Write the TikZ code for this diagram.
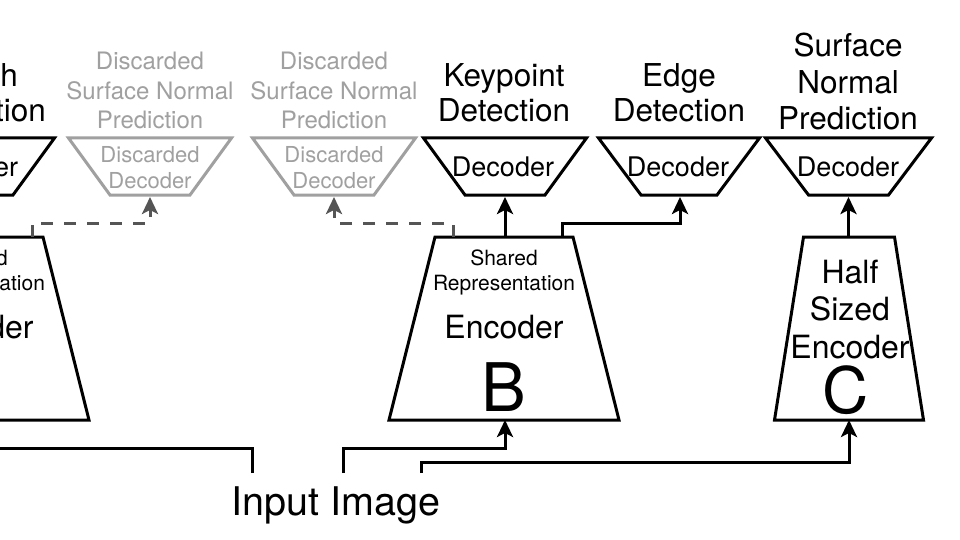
\documentclass[tikz,border=0pt]{standalone}
\usepackage{fontspec}
\setmainfont{TeX Gyre Heros}
\usetikzlibrary{arrows.meta}
\newcommand\myfs[2]{\fontsize{#1}{#2}\selectfont}
\newcommand\trapz[6]{\draw[#1] ({#2-#5},#3) -- ({#2+#5},#3) -- ({#2+#6},#4) -- ({#2-#6},#4) -- cycle;}
\definecolor{discgray}{HTML}{A0A0A0}
\definecolor{dashgray}{HTML}{555555}
\begin{document}
\begin{tikzpicture}[x=1pt,y=-1pt,
  shapeline/.style={draw=black,line width=3pt,line join=miter},
  discline/.style={draw=discgray,line width=3pt,line join=miter},
  conn/.style={draw=black,line width=3pt},
  dconn/.style={draw=dashgray,line width=3pt,dash pattern=on 12pt off 11pt},
  arr/.style={-{Stealth[length=17pt,width=16pt,inset=4pt]}},
  darr/.style={-{Stealth[length=17pt,width=16pt,inset=4pt,color=dashgray]}},
  lbl/.style={inner sep=0pt,align=center,anchor=base},
  dlbl/.style={lbl,text=discgray}]
\useasboundingbox (0,0) rectangle (960,540);
\clip (0,0) rectangle (960,540);
\fill[white] (0,0) rectangle (960,540);
% decoders
\trapz{shapeline}{-27}{138}{195}{81.5}{40}
\trapz{discline}{150}{138}{195}{81.5}{40}
\trapz{discline}{334}{138}{195}{81.5}{40}
\trapz{shapeline}{505}{138}{195}{81.5}{40}
\trapz{shapeline}{679}{138}{195}{80.5}{38}
\trapz{shapeline}{848.5}{138}{195}{83}{40}
% encoders
\trapz{shapeline}{-26}{237}{420}{69}{115}
\trapz{shapeline}{504}{237}{420}{69}{115}
\trapz{shapeline}{849}{237}{420}{45.5}{74.5}
% coordinates
\coordinate (Abot) at (-26,420);
\coordinate (Atick) at (32,237);
\coordinate (Btop) at (505,237);
\coordinate (Bbot) at (505,420);
\coordinate (Bedge) at (562,237);
\coordinate (Btick) at (453,237);
\coordinate (Ctop) at (848.5,237);
\coordinate (Cbot) at (849,420);
\coordinate (Kin) at (505,197);
\coordinate (Ein) at (680,197);
\coordinate (Sin) at (848.5,197);
\coordinate (D1in) at (150,197);
\coordinate (D2in) at (334,197);
\coordinate (inA) at (252,473);
\coordinate (inB) at (343,473);
\coordinate (inC) at (421,473);
% text
\node[lbl,font=\myfs{31.5}{35}] (depth) at (-24,122) {Depth\\Prediction};
\node[lbl,font=\myfs{27}{30}] (decL) at (-33,176) {Decoder};
\node[dlbl,font=\myfs{24}{29.5}] (disc1) at (150,129) {Discarded\\Surface Normal\\Prediction};
\node[dlbl,font=\myfs{24}{29.5}] (disc2) at (334,129) {Discarded\\Surface Normal\\Prediction};
\node[dlbl,font=\myfs{22}{25}] (dd1) at (150,188) {Discarded\\Decoder};
\node[dlbl,font=\myfs{22}{25}] (dd2) at (334,188) {Discarded\\Decoder};
\node[lbl,font=\myfs{31.5}{35}] (kp) at (504,122) {Keypoint\\Detection};
\node[lbl,font=\myfs{31.5}{35}] (ed) at (679,122) {Edge\\Detection};
\node[lbl,font=\myfs{31.5}{36.5}] (sn) at (848,130) {Surface\\Normal\\Prediction};
\node[lbl,font=\myfs{27}{30}] (dk) at (503,176) {Decoder};
\node[lbl,font=\myfs{27}{30}] (de) at (678,176) {Decoder};
\node[lbl,font=\myfs{27}{30}] (ds) at (848,176) {Decoder};
\node[lbl,font=\myfs{21}{25}] (srA) at (-26,290) {Shared\\Representation};
\node[lbl,font=\myfs{32}{36}] (encA) at (-26,338) {Encoder};
\node[lbl,font=\myfs{21}{25}] (srB) at (504,290) {Shared\\Representation};
\node[lbl,font=\myfs{32}{36}] (encB) at (504,338) {Encoder};
\node[lbl,font=\myfs{67}{70}] (letB) at (504,411) {B};
\node[lbl,font=\myfs{32}{37.5}] (encC) at (850,358) {Half\\Sized\\Encoder};
\node[lbl,font=\myfs{64}{70}] (letC) at (846,413) {C};
\node[lbl,font=\myfs{39.5}{44}] (input) at (336,515) {Input Image};
% connectors
\draw[conn] (inA) -- ++(0,-25) -| (Abot);
\draw[conn,arr] (inB) -- ++(0,-25) -| (Bbot);
\draw[conn,arr] (inC) -- ++(0,-11) -| (Cbot);
\draw[conn,arr] (Btop) -- (Kin);
\draw[conn,arr] (Bedge) -- ++(0,-14) -| (Ein);
\draw[conn,arr] (Ctop) -- (Sin);
\draw[dconn,darr] (Atick) -- ++(0,-14) -| (D1in);
\draw[dconn,darr] (Btick) -- ++(0,-14) -| (D2in);
\end{tikzpicture}
\end{document}
